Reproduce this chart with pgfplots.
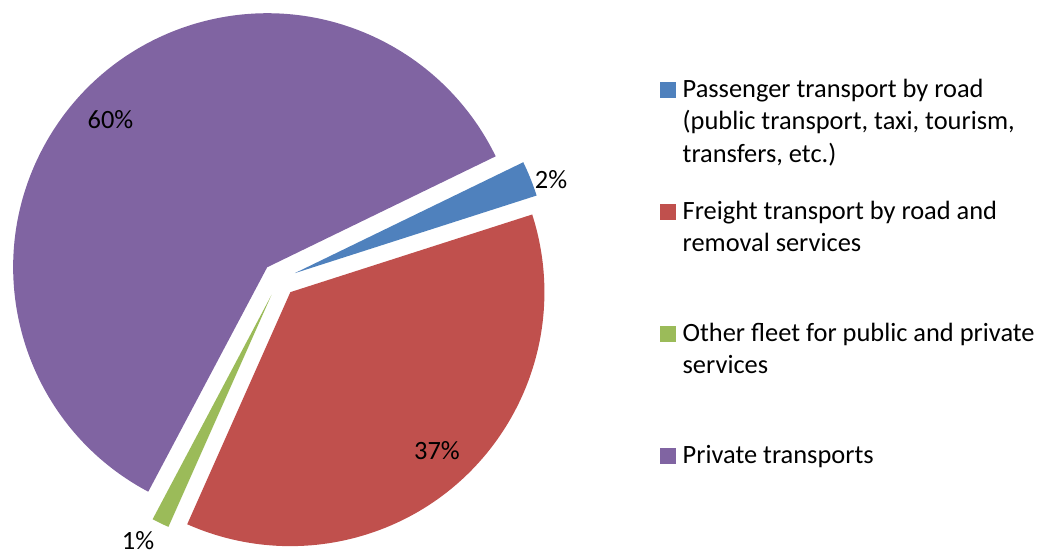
\documentclass[border=0pt]{standalone}
\usepackage{fontspec}
\setmainfont{Carlito}
\usepackage{pgfplots}
\usepackage{pgfplotstable}
\pgfplotsset{compat=1.18}

\definecolor{piecol0}{HTML}{4F81BD}
\definecolor{piecol1}{HTML}{C0504D}
\definecolor{piecol2}{HTML}{9BBB59}
\definecolor{piecol3}{HTML}{8064A2}
\newcommand\lblfont{\fontsize{13.2}{16.25}\selectfont}

% share in percent, label centre in picture pixels (y from the top)
\pgfplotstableread{
val   lx    ly    lab
2.25  551   180   2
36.6  437   451   37
1.1   138   541   1
60.05 110.5 119.5 60
}\piedata

\begin{document}
\begin{tikzpicture}
\begin{axis}[
  width=519.5pt, height=278pt, scale only axis,
  xmin=0, xmax=1039, ymin=0, ymax=556,
  hide axis, clip=false,
  legend style={
    at={(0.6352,0.8585)}, anchor=north west,
    draw=none, fill=none, inner sep=0pt,
    /tikz/row sep=0pt, /tikz/column sep=3.35pt,
    cells={anchor=base west},
    nodes={inner sep=0pt, text height=9pt, text depth=52.1pt, font=\lblfont},
  },
]
\def\ang{25.9}
\pgfplotsforeachungrouped \i in {0,1,2,3}{%
  \pgfplotstablegetelem{\i}{val}\of\piedata \let\v\pgfplotsretval
  \pgfplotstablegetelem{\i}{lx}\of\piedata \let\lx\pgfplotsretval
  \pgfplotstablegetelem{\i}{ly}\of\piedata \let\ly\pgfplotsretval
  \pgfplotstablegetelem{\i}{lab}\of\piedata \let\lab\pgfplotsretval
  \pgfmathsetmacro\angend{\ang-3.6*\v}
  \pgfmathsetmacro\mid{(\ang+\angend)/2}
  \pgfmathsetmacro\ax{279+17*cos(\mid)}
  \pgfmathsetmacro\ay{276.5+17*sin(\mid)}
  \pgfmathsetmacro\lyy{556-\ly}
  \edef\tmp{%
    \noexpand\fill[piecol\i] (axis cs:\ax,\ay) -- ++(\ang:127pt)
      arc[start angle=\ang, end angle=\angend, radius=127pt] -- cycle;
    \noexpand\node[font=\noexpand\lblfont, inner sep=0pt] at (axis cs:\lx,\lyy) {\lab\noexpand\%};
  }%
  \tmp
  \let\ang\angend
}

\addlegendimage{legend image code/.code={\fill[piecol0] (0pt,0pt) rectangle (7.4pt,7.4pt);}}
\addlegendentry{\parbox[t]{190pt}{\lblfont Passenger transport by road\\(public transport, taxi, tourism,\\transfers, etc.)}}
\addlegendimage{legend image code/.code={\fill[piecol1] (0pt,0pt) rectangle (7.4pt,7.4pt);}}
\addlegendentry{\parbox[t]{190pt}{\lblfont Freight transport by road and\\removal services}}
\addlegendimage{legend image code/.code={\fill[piecol2] (0pt,0pt) rectangle (7.4pt,7.4pt);}}
\addlegendentry{\parbox[t]{190pt}{\lblfont Other fleet for public and private\\services}}
\addlegendimage{legend image code/.code={\fill[piecol3] (0pt,0pt) rectangle (7.4pt,7.4pt);}}
\addlegendentry{\parbox[t]{190pt}{\lblfont Private transports}}
\end{axis}
\pgfresetboundingbox
\path[use as bounding box] (0,0) rectangle (519.5pt,278pt);
\end{tikzpicture}
\end{document}
